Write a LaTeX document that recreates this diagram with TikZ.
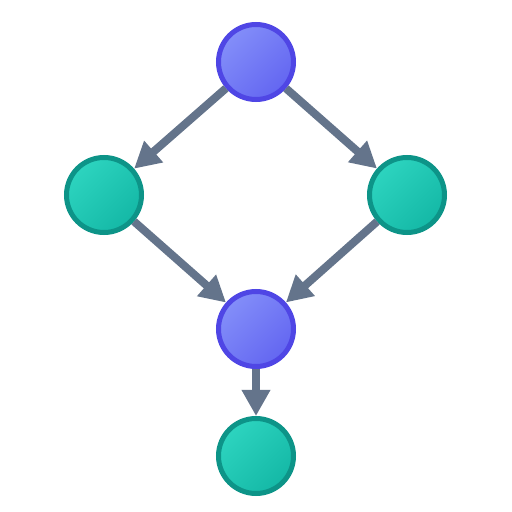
\documentclass[tikz,border=0pt]{standalone}
\usetikzlibrary{arrows.meta}
\definecolor{pA}{HTML}{838EF9}
\definecolor{pB}{HTML}{6366F1}
\definecolor{pBorder}{HTML}{4F46E5}
\definecolor{gA}{HTML}{2DD4BF}
\definecolor{gB}{HTML}{14B8A6}
\definecolor{gBorder}{HTML}{0D9488}
\definecolor{edgec}{HTML}{64748B}
\tikzset{
  basenode/.style={circle, minimum size=75pt, inner sep=0pt, line width=5pt},
  purple/.style={basenode, draw=pBorder, top color=pA, bottom color=pB, shading angle=45},
  green/.style={basenode, draw=gBorder, top color=gA, bottom color=gB, shading angle=45},
  edge/.style={draw=edgec, line width=8pt, -{Triangle[length=26pt,width=27pt]}}
}
\begin{document}
\begin{tikzpicture}[x=1pt,y=1pt]
\useasboundingbox[fill=white] (0,0) rectangle (512,512);
\node[purple] (top) at (256,450) {};
\node[green] (left) at (104,317) {};
\node[green] (right) at (407,317) {};
\node[purple] (mid) at (256,183) {};
\node[green] (bot) at (256,56) {};
\draw[edge] (top) -- (left);
\draw[edge] (top) -- (right);
\draw[edge] (left) -- (mid);
\draw[edge] (right) -- (mid);
\draw[edge] (mid) -- (bot);
\end{tikzpicture}
\end{document}
